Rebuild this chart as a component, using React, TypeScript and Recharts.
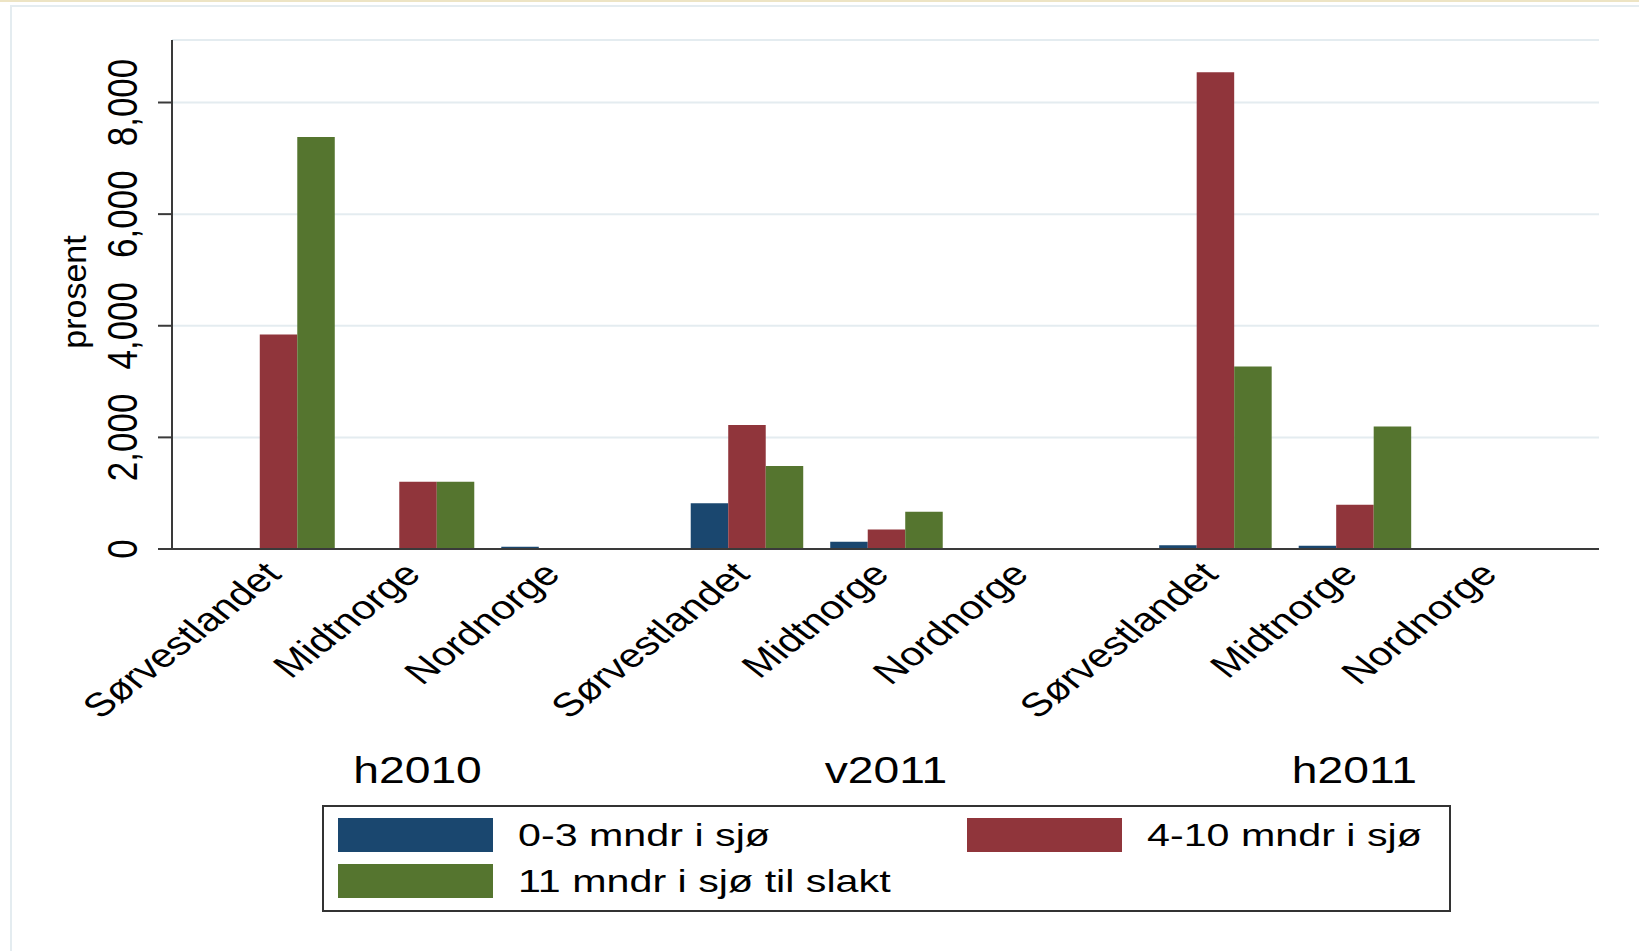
import { Bar, BarChart, CartesianGrid, Legend, XAxis, YAxis } from "recharts";

const periods = ["h2010", "v2011", "h2011"];
const regions = ["Sørvestlandet", "Midtnorge", "Nordnorge"];
const seriesNames = ["0-3 mndr i sjø", "4-10 mndr i sjø", "11 mndr i sjø til slakt"];
const seriesColors = ["#1a476f", "#90353b", "#55752f"];

// period-major: h2010 (Sør, Midt, Nord), v2011 (...), h2011 (...)
const mndr0to3 = [0, 0, 40, 821, 130, 0, 65, 58, 0];
const mndr4to10 = [3843, 1204, 0, 2220, 350, 0, 8544, 794, 0];
const mndr11 = [7380, 1204, 0, 1488, 666, 0, 3270, 2195, 0];
const yTicks = [0, 2000, 4000, 6000, 8000];

const PERIOD_STEP = 3.358;
const FONT = "Arial, 'Liberation Sans', Helvetica, sans-serif";

const rows = periods.flatMap((period, p) =>
  regions.map((region, r) => {
    const i = p * regions.length + r;
    return { pos: p * PERIOD_STEP + r, period, region, s0: mndr0to3[i], s1: mndr4to10[i], s2: mndr11[i] };
  })
);
const seriesKeys = ["s0", "s1", "s2"];

function RegionTick({ x, y, payload }: any) {
  const row = rows.find((d) => Math.abs(d.pos - payload.value) < 1e-6);
  if (!row) return null;
  return (
    <g>
      <text
        transform={`translate(${x + 5},${y + 27}) scale(1.27,1) rotate(-45)`}
        textAnchor="end"
        fontSize={33}
        fontFamily={FONT}
        fill="#000"
      >
        {row.region}
      </text>
      {row.region === regions[1] && (
        <text
          transform={`translate(${x},${y + 234}) scale(1.25,1)`}
          textAnchor="middle"
          fontSize={37}
          fontFamily={FONT}
          fill="#000"
        >
          {row.period}
        </text>
      )}
    </g>
  );
}

function ValueTick({ y, payload }: any) {
  return (
    <text
      transform={`translate(137,${y}) scale(1.2,1) rotate(-90)`}
      textAnchor="middle"
      fontSize={35}
      fontFamily={FONT}
      fill="#000"
    >
      {Number(payload.value).toLocaleString("en-US")}
    </text>
  );
}

function ProsentLabel() {
  return (
    <text transform="translate(86,292) rotate(-90)" textAnchor="middle" fontSize={34} fontFamily={FONT} fill="#000">
      prosent
    </text>
  );
}

const slots = [
  { x: 16, y: 13 },
  { x: 645, y: 13 },
  { x: 16, y: 59 },
];

function LegendBox({ payload }: any) {
  return (
    <svg width={1129} height={107} style={{ display: "block" }}>
      <rect x={1} y={1} width={1127} height={105} fill="#fff" stroke="#333" strokeWidth={2} />
      {(payload ?? []).map((item: any) => {
        const i = seriesNames.indexOf(item.value);
        const s = slots[i];
        if (!s) return null;
        return (
          <g key={item.value}>
            <rect x={s.x} y={s.y} width={155} height={34} fill={seriesColors[i]} />
            <text
              transform={`translate(${s.x + 180},${s.y + 28}) scale(1.33,1)`}
              fontSize={31}
              fontFamily={FONT}
              fill="#000"
            >
              {item.value}
            </text>
          </g>
        );
      })}
    </svg>
  );
}

export default function App() {
  return (
    <div style={{ position: "absolute", left: 0, top: 0, width: 1639, height: 951, background: "#fff", overflow: "hidden" }}>
      <div style={{ position: "absolute", left: 0, top: 0, width: 1639, height: 2, background: "#ede4c4" }} />
      <div
        style={{
          position: "absolute",
          left: 10,
          top: 5,
          width: 1639,
          height: 951,
          borderLeft: "2px solid #e4ecf0",
          borderTop: "2px solid #e4ecf0",
        }}
      />
      <div style={{ position: "absolute", left: 0, top: 0 }}>
        <BarChart
          width={1639}
          height={951}
          data={rows}
          margin={{ top: 40, right: 40, bottom: 0, left: 0 }}
          barGap={0}
          barSize={37.5}
        >
          <CartesianGrid vertical={false} stroke="#e4ecf0" strokeWidth={2} />
          <XAxis
            type="number"
            dataKey="pos"
            domain={[-0.76, 2 * PERIOD_STEP + 2.753]}
            allowDataOverflow
            ticks={rows.map((d) => d.pos)}
            interval={0}
            height={402}
            tickLine={false}
            tickSize={0}
            tickMargin={0}
            axisLine={{ stroke: "#3a3a3a", strokeWidth: 2 }}
            tick={<RegionTick />}
          />
          <YAxis
            type="number"
            domain={[0, 9120]}
            ticks={yTicks}
            width={172}
            tickSize={14}
            tickLine={{ stroke: "#3a3a3a", strokeWidth: 2 }}
            axisLine={{ stroke: "#3a3a3a", strokeWidth: 2 }}
            tick={<ValueTick />}
            label={<ProsentLabel />}
          />
          <Legend
            layout="horizontal"
            verticalAlign="middle"
            align="center"
            content={<LegendBox />}
            wrapperStyle={{ left: 322, top: 805, width: 1129, height: 107 }}
          />
          {seriesKeys.map((key, i) => (
            <Bar key={key} dataKey={key} name={seriesNames[i]} fill={seriesColors[i]} isAnimationActive={false} />
          ))}
        </BarChart>
      </div>
    </div>
  );
}
